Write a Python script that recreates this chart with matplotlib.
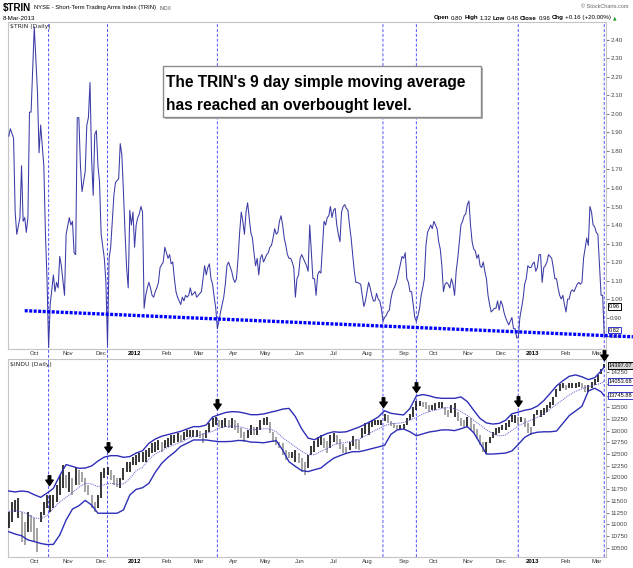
import matplotlib
matplotlib.use("Agg")
import matplotlib.pyplot as plt
import matplotlib.patches as mpatches
import matplotlib.transforms as mtrans
from matplotlib.path import Path
import numpy as np
import pandas as pd

# NYSE closed days inside the window
holidays = ["2011-11-24", "2011-12-26", "2012-01-02", "2012-01-16", "2012-02-20",
            "2012-04-06", "2012-05-28", "2012-07-04", "2012-09-03", "2012-10-29",
            "2012-10-30", "2012-11-22", "2012-12-25", "2013-01-01", "2013-01-21",
            "2013-02-18"]
dates = pd.bdate_range("2011-09-09", "2013-03-08", freq="C", holidays=holidays)

# $TRIN 9 day SMA (trading day index, value)
trin_day = [0, 1, 3, 4, 5, 7, 8, 9, 10, 11,
            12, 13, 14, 16, 18, 19, 20, 22, 23, 24,
            25, 26, 28, 29, 30, 31, 32, 33, 35, 36,
            38, 39, 40, 41, 42, 43, 44, 45, 46, 48,
            49, 50, 51, 52, 53, 54, 55, 56, 57, 58,
            60, 61, 62, 63, 64, 66, 67, 68, 69, 70,
            71, 72, 73, 74, 75, 76, 77, 78, 79, 80,
            81, 82, 83, 84, 85, 86, 87, 88, 89, 90,
            91, 92, 93, 94, 95, 97, 98, 99, 100, 101,
            102, 103, 104, 105, 106, 108, 109, 110, 111, 112,
            113, 114, 115, 117, 118, 119, 121, 122, 123, 124,
            125, 126, 127, 128, 129, 130, 131, 132, 133, 134,
            135, 136, 137, 138, 140, 141, 142, 143, 144, 145,
            146, 147, 148, 149, 150, 151, 152, 153, 154, 155,
            156, 157, 158, 159, 160, 162, 163, 164, 165, 166,
            167, 168, 169, 170, 171, 172, 173, 174, 175, 176,
            177, 178, 179, 180, 181, 182, 183, 184, 185, 187,
            188, 189, 190, 191, 192, 193, 194, 195, 196, 198,
            199, 200, 201, 202, 203, 204, 205, 206, 207, 208,
            209, 210, 211, 212, 213, 214, 215, 216, 217, 218,
            219, 221, 222, 223, 224, 225, 226, 227, 228, 229,
            230, 231, 232, 233, 234, 235, 236, 237, 238, 239,
            240, 241, 243, 244, 245, 246, 247, 248, 249, 250,
            251, 252, 253, 254, 255, 256, 257, 258, 259, 260,
            261, 262, 263, 265, 266, 267, 268, 269, 270, 271,
            272, 273, 274, 275, 276, 277, 278, 279, 280, 281,
            282, 283, 284, 285, 286, 287, 288, 289, 290, 291,
            292, 293, 294, 295, 296, 297, 298, 299, 300, 301,
            302, 303, 305, 306, 307, 308, 309, 310, 311, 312,
            313, 314, 315, 316, 317, 318, 319, 320, 321, 322,
            323, 324, 325, 326, 327, 328, 329, 330, 331, 332,
            333, 334, 335, 336, 337, 338, 339, 341, 342, 343,
            344, 345, 346, 347, 348, 349, 350, 351, 352, 353,
            354, 355, 356, 357, 358, 359, 360, 361, 363, 364,
            365, 366, 367, 368, 369, 370, 371, 372, 373, 374]
trin_sma = [1.88, 1.92, 1.87, 1.47, 1.35, 1.44, 1.72, 1.42, 1.44, 1.36,
            1.44, 2.01, 2.01, 2.47, 2.12, 1.79, 1.94, 1.72, 1.36, 1.11,
            0.74, 0.97, 1.13, 1.04, 1.09, 1.06, 1.23, 1.18, 1.02, 1.35,
            1.44, 1.40, 1.42, 1.25, 1.24, 1.98, 1.98, 1.72, 1.58, 1.69,
            1.94, 1.98, 2.17, 1.76, 1.56, 1.89, 1.91, 1.72, 1.63, 1.35,
            1.22, 1.09, 0.75, 1.22, 1.28, 1.56, 1.63, 1.64, 1.65, 1.84,
            1.78, 1.58, 1.36, 1.17, 1.06, 1.48, 1.40, 1.47, 1.28, 1.40,
            1.44, 1.46, 1.50, 1.47, 0.95, 1.02, 1.06, 1.09, 1.06, 1.02,
            1.01, 1.04, 1.06, 1.09, 1.17, 1.20, 1.28, 1.25, 1.22, 1.24,
            1.19, 1.20, 1.11, 1.04, 1.01, 0.97, 1.01, 0.99, 1.02, 1.01,
            1.02, 1.06, 1.02, 1.04, 1.01, 1.02, 1.04, 1.11, 1.18, 1.13,
            1.17, 1.19, 1.11, 1.08, 1.01, 0.95, 0.84, 0.88, 0.93, 0.97,
            1.01, 1.08, 1.18, 1.20, 1.15, 1.11, 1.09, 1.11, 1.22, 1.36,
            1.47, 1.42, 1.35, 1.47, 1.52, 1.44, 1.36, 1.33, 1.25, 1.18,
            1.22, 1.13, 1.22, 1.24, 1.20, 1.24, 1.25, 1.28, 1.29, 1.33,
            1.38, 1.35, 1.36, 1.42, 1.45, 1.40, 1.33, 1.29, 1.24, 1.22,
            1.22, 1.20, 1.17, 1.01, 1.11, 1.13, 1.22, 1.24, 1.22, 1.18,
            1.15, 1.40, 1.26, 1.11, 1.11, 1.02, 1.13, 1.15, 1.14, 1.42,
            1.40, 1.44, 1.45, 1.50, 1.44, 1.48, 1.49, 1.40, 1.35, 1.31,
            1.47, 1.50, 1.51, 1.49, 1.48, 1.40, 1.33, 1.24, 1.15, 1.09,
            1.09, 1.08, 1.02, 0.96, 0.99, 1.04, 1.09, 1.06, 1.02, 0.99,
            0.99, 1.03, 1.00, 0.99, 0.95, 0.88, 0.90, 0.91, 0.93, 0.94,
            1.00, 1.04, 1.08, 1.11, 1.15, 1.19, 1.23, 1.22, 1.25, 1.11,
            1.09, 1.04, 1.04, 0.97, 0.90, 0.88, 0.91, 0.95, 1.02, 1.06,
            1.11, 1.29, 1.36, 1.40, 1.38, 1.42, 1.40, 1.38, 1.31, 1.27,
            1.18, 1.04, 1.08, 1.09, 1.08, 1.06, 1.11, 1.08, 1.02, 1.15,
            1.22, 1.31, 1.40, 1.42, 1.45, 1.46, 1.51, 1.53, 1.40, 1.31,
            1.27, 1.26, 1.22, 1.24, 1.18, 1.17, 1.20, 1.15, 1.11, 1.02,
            0.97, 0.93, 0.95, 0.95, 0.99, 0.94, 0.99, 0.97, 0.93, 0.90,
            0.88, 0.86, 0.88, 0.90, 0.84, 0.84, 0.79, 0.79, 0.90, 0.95,
            1.00, 1.08, 1.11, 1.18, 1.17, 1.17, 1.19, 1.20, 1.15, 1.17,
            1.24, 1.24, 1.09, 1.17, 1.18, 1.20, 1.24, 1.22, 1.17, 1.11,
            1.11, 1.06, 1.02, 1.00, 1.02, 0.97, 0.93, 1.00, 1.00, 1.04,
            1.05, 1.04, 1.06, 1.08, 1.09, 1.08, 1.09, 1.22, 1.33, 1.29,
            1.50, 1.47, 1.40, 1.39, 1.36, 1.35, 1.18, 1.02, 1.02, 0.80]

# $INDU bars, every second trading day
dow_day = list(range(0, 375, 2))
dow_high = [11270, 11480, 11520, 11550, 11270, 11055, 11270, 11200, 11130, 10910,
            11270, 11480, 11625, 11625, 11625, 11840, 12050, 12265, 12050, 12120,
            11980, 12195, 12160, 12120, 11980, 11840, 11625, 11480, 11625, 12120,
            12195, 12230, 12160, 12050, 11980, 11980, 12195, 12335, 12335, 12445,
            12480, 12515, 12550, 12585, 12620, 12730, 12765, 12800, 12765, 12800,
            12835, 12905, 12905, 12940, 12905, 12980, 13015, 13015, 13015, 13015,
            12990, 12940, 13015, 13155, 13265, 13300, 13225, 13225, 13265, 13225,
            13265, 13225, 13155, 13050, 12980, 13015, 13120, 13085, 13085, 13225,
            13265, 13300, 13190, 12980, 12870, 12765, 12730, 12585, 12550, 12550,
            12585, 12515, 12410, 12335, 12480, 12680, 12780, 12855, 12905, 12850,
            12785, 12905, 12940, 12905, 12820, 12705, 12655, 12765, 12890, 12820,
            12800, 13065, 13155, 13190, 13225, 13225, 13225, 13225, 13350, 13335,
            13205, 13155, 13120, 13120, 13140, 13265, 13350, 13510, 13635, 13640,
            13620, 13605, 13545, 13545, 13585, 13620, 13620, 13510, 13440, 13545,
            13585, 13405, 13275, 13225, 13300, 13265, 13135, 13035, 12905, 12750,
            12765, 12870, 12980, 13050, 13085, 13120, 13155, 13225, 13335, 13335,
            13300, 13300, 13265, 13155, 13085, 13350, 13440, 13440, 13475, 13545,
            13620, 13725, 13890, 13995, 14010, 13975, 14010, 14010, 14010, 14045,
            14010, 13975, 13975, 14045, 14095, 14190, 14315, 14415]
dow_low = [10910, 11055, 11270, 11130, 10630, 10560, 10840, 10840, 10630, 10410,
           11055, 11200, 11340, 11270, 11340, 11480, 11625, 11765, 11765, 11695,
           11625, 11840, 11840, 11910, 11695, 11625, 11340, 11270, 11340, 11555,
           11980, 12050, 11945, 11840, 11800, 11765, 11945, 12120, 12120, 12265,
           12265, 12335, 12335, 12335, 12445, 12515, 12550, 12585, 12550, 12620,
           12655, 12695, 12730, 12765, 12765, 12800, 12870, 12870, 12870, 12870,
           12850, 12730, 12835, 12980, 13085, 13120, 13085, 13050, 13085, 13050,
           13050, 13015, 12940, 12835, 12765, 12835, 12905, 12905, 12905, 13015,
           13120, 13120, 12940, 12765, 12695, 12620, 12480, 12375, 12410, 12410,
           12335, 12300, 12120, 12050, 12195, 12480, 12535, 12645, 12695, 12635,
           12515, 12620, 12750, 12705, 12605, 12530, 12495, 12585, 12680, 12605,
           12585, 12850, 12920, 12905, 13085, 13120, 13120, 13120, 13205, 13155,
           13090, 13050, 13015, 13015, 13035, 13120, 13225, 13300, 13440, 13535,
           13500, 13460, 13405, 13440, 13440, 13475, 13475, 13335, 13300, 13370,
           13300, 13205, 13105, 13085, 13085, 13015, 12955, 12820, 12695, 12535,
           12495, 12730, 12835, 12905, 12940, 13015, 13015, 13085, 13190, 13155,
           13120, 13190, 13085, 12940, 12905, 13105, 13335, 13300, 13335, 13405,
           13475, 13545, 13710, 13855, 13905, 13870, 13905, 13905, 13905, 13940,
           13905, 13830, 13830, 13915, 13975, 14045, 14210, 14330]

# Bollinger bands (20,2), read every fourth trading day
band_day = list(range(0, 373, 4)) + [374]
bb_upper = [11710, 11690, 11710, 11695, 11630, 11575, 11665, 11765, 12040, 12275,
            12235, 12195, 12200, 12245, 12350, 12435, 12465, 12465, 12430, 12445,
            12520, 12570, 12730, 12820, 12880, 12915, 12950, 12985, 13035, 13085,
            13085, 13120, 13290, 13340, 13385, 13405, 13400, 13375, 13340, 13340,
            13355, 13390, 13420, 13460, 13475, 13300, 13035, 12840, 12805, 12880,
            12940, 12975, 12965, 12975, 13025, 13075, 13140, 13210, 13290, 13425,
            13370, 13350, 13335, 13475, 13740, 13770, 13745, 13705, 13690, 13690,
            13690, 13720, 13620, 13435, 13260, 13165, 13140, 13155, 13220, 13360,
            13395, 13435, 13460, 13525, 13640, 13795, 13955, 14065, 14160, 14190,
            14150, 14090, 14130, 14275, 14360]
bb_lower = [10840, 10790, 10755, 10665, 10630, 10590, 10565, 10570, 10770, 11090,
            11325, 11395, 11510, 11410, 11235, 11235, 11235, 11235, 11305, 11625,
            11745, 11780, 11875, 12110, 12300, 12430, 12535, 12665, 12730, 12800,
            12800, 12800, 12780, 12765, 12765, 12770, 12790, 12785, 12755, 12750,
            12740, 12765, 12785, 12585, 12335, 12235, 12145, 12125, 12165, 12200,
            12310, 12410, 12465, 12515, 12550, 12550, 12580, 12615, 12650, 12685,
            12920, 13015, 13035, 12975, 12890, 12930, 12970, 12990, 13015, 13015,
            13000, 13040, 13085, 12955, 12730, 12500, 12500, 12510, 12520, 12565,
            12705, 12855, 12935, 12965, 12975, 12975, 12990, 13155, 13320, 13420,
            13520, 13845, 13905, 13830, 13745]
bb_mid = [11270, 11295, 11270, 11210, 11135, 11120, 11185, 11340, 11475, 11575,
          11680, 11790, 11875, 11860, 11805, 11845, 11875, 11850, 11860, 11975,
          12145, 12215, 12385, 12500, 12570, 12645, 12700, 12755, 12820, 12870,
          12905, 12940, 12985, 13050, 13085, 13100, 13090, 13055, 13020, 13025,
          13040, 13035, 12975, 12850, 12750, 12655, 12555, 12485, 12485, 12555,
          12615, 12695, 12730, 12750, 12780, 12815, 12890, 12970, 13035, 13100,
          13150, 13155, 13175, 13225, 13285, 13355, 13405, 13440, 13475, 13490,
          13470, 13410, 13325, 13220, 13120, 13020, 12935, 12885, 12905, 13005,
          13100, 13170, 13225, 13285, 13355, 13455, 13560, 13660, 13760, 13840,
          13895, 13940, 13975, 14010, 14055]

# annotations
signal_days = [25, 62, 131, 235, 256, 320, 374]
arrow_tips = [11840, 12540, 13460, 13500, 13830, 13530, 14510]
trend_days = [10, 392]
trend_vals = [0.937, 0.796]
trin_ticks = np.round(np.arange(0.8, 2.41, 0.1), 2)
dow_ticks = list(range(10500, 14251, 250))
dow_hidden = [14000, 13750]  # covered by the value tags

NARROW = ["Liberation Sans Narrow", "Liberation Sans", "DejaVu Sans"]
W, H = 633, 568


def box(l, t, r, b):
    return [l / W, 1 - b / H, (r - l) / W, (b - t) / H]


def px(x, y):
    return x / W, 1 - y / H


fig = plt.figure(figsize=(W / 100, H / 100), dpi=100)
ax1 = fig.add_axes(box(8, 22, 606, 349))
ax2 = fig.add_axes(box(8, 359, 606, 557))
ax2.patch.set_alpha(0)

# month labels from the trading calendar
idx = pd.Series(np.arange(len(dates)), index=dates)
firsts = idx.groupby([dates.year, dates.month]).first()
tick_pos, tick_lab = [], []
for (yr, mo), i in firsts.items():
    if i == 0:
        continue
    tick_pos.append(i)
    tick_lab.append(str(yr) if mo == 1 else pd.Timestamp(yr, mo, 1).strftime("%b"))

ax1.set_ylim(0.73, 2.497)
ax1.set_yticks(trin_ticks)
ax1.set_yticklabels([f"{t:.2f}" for t in trin_ticks])
ax2.set_ylim(10300, 14530)
ax2.set_yticks(dow_ticks)
ax2.set_yticklabels(["" if t in dow_hidden else str(t) for t in dow_ticks])

for ax in (ax1, ax2):
    ax.set_xlim(-0.5, 375.1)
    for s in ax.spines.values():
        s.set_color("#c4c4c4")
        s.set_linewidth(0.8)
    ax.yaxis.tick_right()
    ax.tick_params(axis="y", length=2, width=0.5, pad=1, colors="#444444", labelsize=4.5)
    ax.tick_params(axis="x", length=0, pad=1.5, labelsize=4.3, colors="#333333")
    ax.set_xticks(tick_pos)
    ax.set_xticklabels(tick_lab)
    for lab in ax.get_xticklabels() + ax.get_yticklabels():
        lab.set_family(NARROW)
        if lab.get_text() in ("2012", "2013"):
            lab.set_fontweight("bold")
            lab.set_color("black")

# top panel: TRIN
ax1.plot(trin_day, trin_sma, color="#3b3ba6", lw=0.75, zorder=3)
ax1.plot(trend_days, trend_vals, color="#0000ff", lw=2.4, ls=(0, (0.9, 0.45)),
         dash_capstyle="butt", clip_on=False, zorder=4)
for d in signal_days:
    ax1.axvline(d, ymin=-(557 - 349) / 327, ymax=1, color="#5050ff", lw=0.7,
                ls=(0, (3, 2)), clip_on=False, snap=False, zorder=2)
ax1.text(0.004, 0.995, "$TRIN (Daily)", transform=ax1.transAxes, fontsize=4.4,
         va="top", ha="left", family="DejaVu Sans", color="#222222")

# bottom panel: Dow bars with Bollinger bands
bar_cols = ["black" if i == 0 or dow_high[i] >= dow_high[i - 1] else "#8a8a8a"
            for i in range(len(dow_high))]
ax2.vlines(dow_day, dow_low, dow_high, colors=bar_cols, lw=1.1, zorder=3)
ax2.plot(band_day, bb_upper, color="#2e2eb8", lw=1.0, zorder=4)
ax2.plot(band_day, bb_lower, color="#2e2eb8", lw=1.0, zorder=4)
ax2.plot(band_day, bb_mid, color="#5a5ad0", lw=0.7, ls=(0, (1, 1)), zorder=4)

arrow = Path([(0, 0), (-0.38, 0.55), (-0.13, 0.55), (-0.13, 1.0), (0.13, 1.0),
              (0.13, 0.55), (0.38, 0.55), (0, 0)],
             [Path.MOVETO] + [Path.LINETO] * 6 + [Path.CLOSEPOLY])
ax2.plot(signal_days, arrow_tips, ls="none", marker=arrow, ms=14, color="black",
         mec="black", clip_on=False, zorder=6)
ax2.text(0.004, 0.985, "$INDU (Daily)", transform=ax2.transAxes, fontsize=4.4,
         va="top", ha="left", family="DejaVu Sans", color="#222222")


# value tags on the right axis
def tag(ax, val, text, ec, fc="white"):
    tr = mtrans.blended_transform_factory(ax.transAxes, ax.transData)
    ax.text(1.005, val, text, transform=tr, fontsize=4.1, family=NARROW,
            va="center", ha="left", color="black", zorder=8, clip_on=False,
            bbox=dict(boxstyle="square,pad=0.15", fc=fc, ec=ec, lw=0.7))


tag(ax1, 0.96, "0.96", "black")
tag(ax1, 0.832, "0.82", "#3333cc")
tag(ax2, 14397.07, "14397.07", "black", "#d8d8d8")
tag(ax2, 14053.68, "14053.68", "#3333cc")
tag(ax2, 13745.88, "13745.88", "#3333cc")

# chart note box
shadow = mpatches.Rectangle(px(165, 119), 318 / W, 51 / H, transform=fig.transFigure,
                            fc="#b0b0b0", ec="none", zorder=5)
note = mpatches.Rectangle(px(163, 117), 318 / W, 51 / H, transform=fig.transFigure,
                          fc="white", ec="#8c8c8c", lw=1.0, zorder=6)
fig.add_artist(shadow)
fig.add_artist(note)
fig.text(*px(166, 87), "The TRIN's 9 day simple moving average", fontsize=11.2,
         family="Liberation Sans", weight="bold", va="baseline", ha="left", zorder=7)
fig.text(*px(166, 110), "has reached an overbought level.", fontsize=11.2,
         family="Liberation Sans", weight="bold", va="baseline", ha="left", zorder=7)

# header
fig.text(*px(3, 8), "$TRIN", fontsize=7, weight="bold", family=NARROW, va="center")
fig.text(*px(34, 8), "NYSE - Short-Term Trading Arms Index (TRIN)", fontsize=4.2,
         family=NARROW, va="center")
fig.text(*px(160, 8), "INDX", fontsize=3.6, family=NARROW, va="center", color="#555555")
fig.text(*px(3, 18), "8-Mar-2013", fontsize=4.5, family=NARROW, va="center")
fig.text(*px(628, 7), "\u00a9 StockCharts.com", fontsize=4.0, family=NARROW,
         va="center", ha="right", color="#666666")

fig.canvas.draw()
rend = fig.canvas.get_renderer()
pieces = [("Open", True), ("0.80", False), ("High", True), ("1.32", False),
          ("Low", True), ("0.48", False), ("Close", True), ("0.96", False),
          ("Chg", True), ("+0.16 (+20.00%)", False)]
x = 434
for s, bold in pieces:
    t = fig.text(*px(x, 18), s, fontsize=4.4, family=NARROW,
                 weight="bold" if bold else "normal", va="center", ha="left")
    x += t.get_window_extent(rend).width + 1.5
fig.text(*px(x, 18), "\u25b2", fontsize=3.3, color="#1a9a1a", va="center", ha="left",
         family="DejaVu Sans")

fig.savefig("out.png", dpi=100)
